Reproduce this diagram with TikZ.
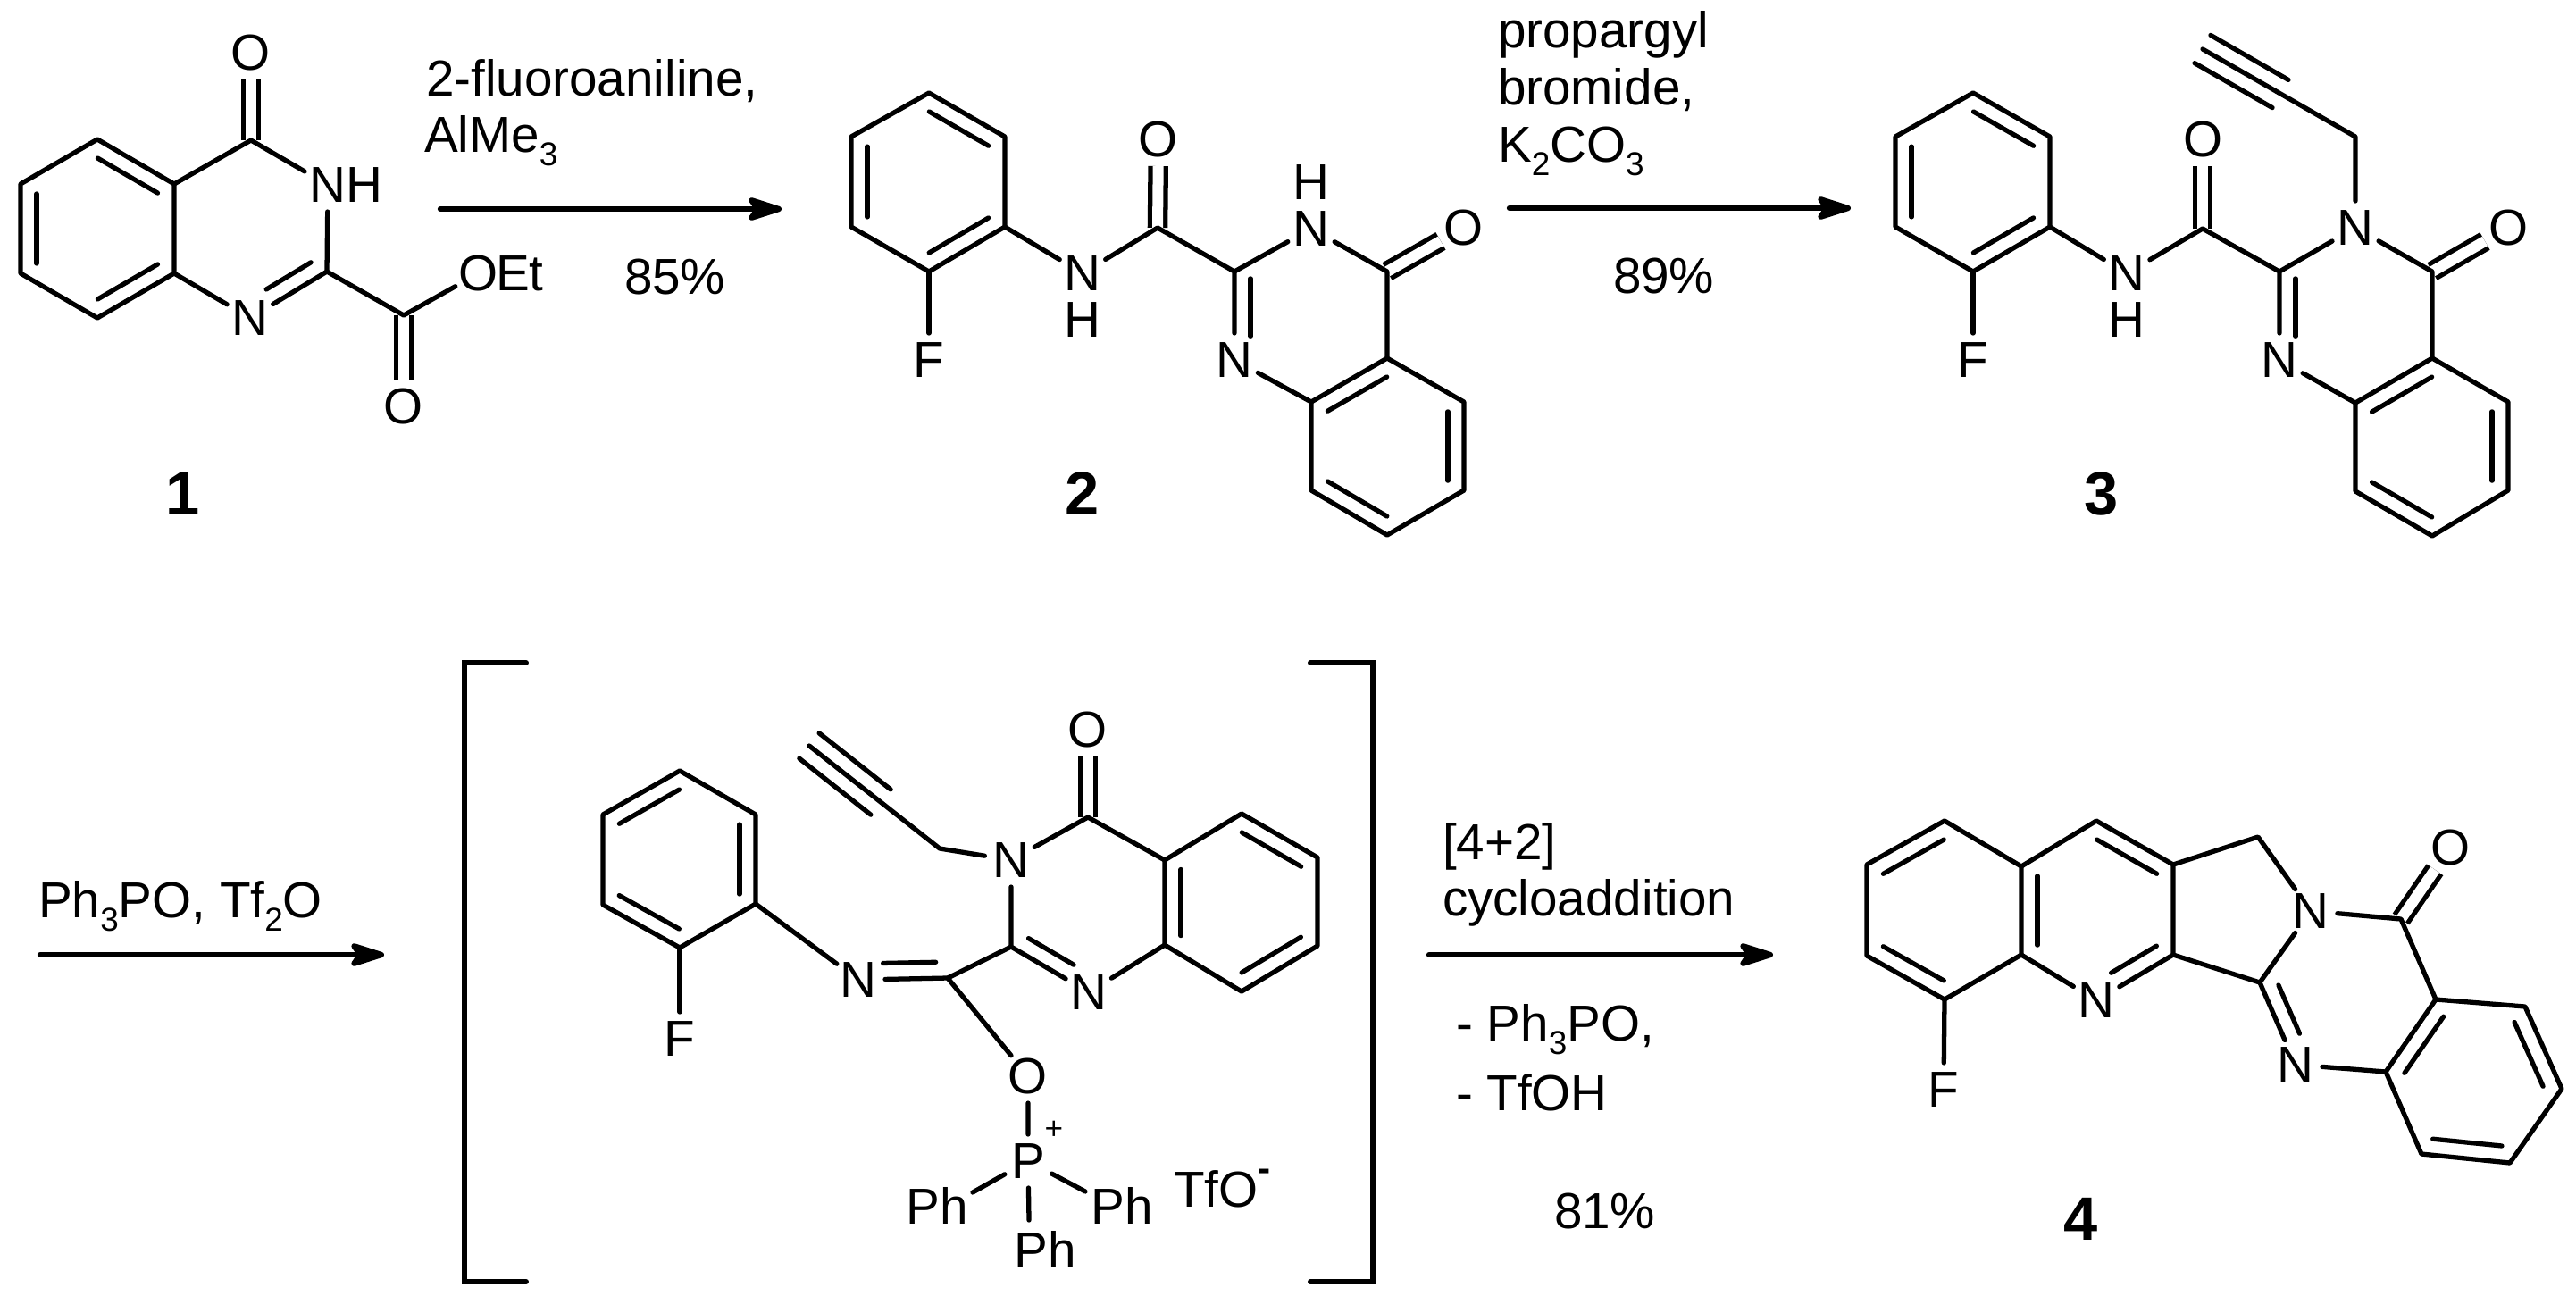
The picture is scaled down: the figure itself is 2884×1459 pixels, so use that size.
\documentclass[tikz,border=0pt]{standalone}
\usepackage{fontspec}
\setmainfont{Liberation Sans}
\usetikzlibrary{calc, arrows.meta}

\newcommand{\inbond}[4]{\draw[bond] ($(#1)!#3!(#2)!.18cm!-90:(#2)$) -- ($(#2)!#4!(#1)!.18cm!90:(#1)$);}
\newcommand{\chemsub}[1]{\raisebox{-4.5pt}{\fontsize{10.5}{12}\selectfont #1}}

\begin{document}
\begin{tikzpicture}[x=.01cm, y=-.01cm,
	bond/.style={line width=1.5pt, line cap=round, line join=round},
	dbond/.style={line width=1.5pt, double, double distance=.12cm},
	atom/.style={circle, inner sep=0pt, outer sep=0pt, minimum size=.6cm, font=\fontsize{16.1}{19}\selectfont},
	lab/.style={inner sep=0pt, outer sep=0pt, font=\fontsize{16.1}{19}\selectfont},
	rgt/.style={lab, anchor=base west},
	num/.style={inner sep=0pt, font=\fontsize{19.5}{23}\selectfont\bfseries},
	rxn/.style={line width=1.8pt, line cap=round, -{Stealth[length=.48cm, width=.3cm, inset=.1cm, round]}},
	brk/.style={line width=1.7pt, line cap=round, line join=miter}]
	\useasboundingbox (0,0) rectangle (2884,1459);

	\path (109,156) coordinate (ac5) (23,206) coordinate (ac6) (23,306) coordinate (ac7) (109,356) coordinate (ac8)
		(195,306) coordinate (ac8a) (195,206) coordinate (ac4a) (281,157) coordinate (ac4) (366,304) coordinate (ac2)
		(452,353) coordinate (aco);
	\node[atom] (ao4) at (281,59) {O};
	\node[atom] (an3) at (367,207) {N};
	\node[lab] (ah3) at (408,207) {H};
	\node[atom] (an1) at (280,356) {N};
	\node[atom] (ao2) at (452,455) {O};
	\node[atom] (aoe) at (536,306) {O};
	\node[lab, anchor=west] (aet) at (555,306) {Et};
	\node[num] (lab1) at (205,553) {1};
	\draw[dbond] (ac4) -- (ao4);
	\draw[dbond] (aco) -- (ao2);
	\draw[bond] (ac5) -- (ac6) -- (ac7) -- (ac8) -- (ac8a) -- (ac4a) -- cycle;
	\draw[bond] (ac4a) -- (ac4) -- (an3) -- (ac2) -- (an1) -- (ac8a);
	\draw[bond] (ac2) -- (aco) -- (aoe);
	\inbond{ac5}{ac4a}{.11}{.11}
	\inbond{ac8a}{ac8}{.11}{.11}
	\inbond{ac7}{ac6}{.11}{.11}
	\inbond{ac2}{an1}{.1}{.32}

	\coordinate (arr1s) at (493,234);
	\coordinate (arr1e) at (875,234);
	\draw[rxn] (arr1s) -- (arr1e);
	\node[rgt] (txt1a) at (477,107) {2-fluoroaniline,};
	\node[rgt] (txt1b) at (475,170) {AlMe\chemsub{3}};
	\node[rgt] (txt1c) at (699,329) {85\%};

	\path (1040,104) coordinate (bc1) (953,153) coordinate (bc2) (953,254) coordinate (bc3) (1040,304) coordinate (bc4)
		(1125,254) coordinate (bc5) (1125,153) coordinate (bc6) (1296,255) coordinate (bco) (1382,304) coordinate (bq2)
		(1553,304) coordinate (bq4) (1553,401) coordinate (bq4a) (1468,450) coordinate (bq8a) (1639,450) coordinate (bq5)
		(1639,549) coordinate (bq6) (1553,599) coordinate (bq7) (1468,549) coordinate (bq8);
	\node[atom] (bf) at (1040,403) {F};
	\node[atom] (bnh) at (1212,306) {N};
	\node[lab] (bhh) at (1212,358) {H};
	\node[atom] (bo) at (1297,156) {O};
	\node[atom] (bn3) at (1468,256) {N};
	\node[lab] (bh3) at (1468,204) {H};
	\node[atom] (bo4) at (1639,255) {O};
	\node[atom] (bn1) at (1382,403) {N};
	\node[num] (lab2) at (1212,553) {2};
	\draw[dbond] (bco) -- (bo);
	\draw[dbond] (bq4) -- (bo4);
	\draw[bond] (bc1) -- (bc2) -- (bc3) -- (bc4) -- (bc5) -- (bc6) -- cycle;
	\draw[bond] (bc4) -- (bf);
	\draw[bond] (bc5) -- (bnh) -- (bco) -- (bq2) -- (bn3) -- (bq4) -- (bq4a) -- (bq8a) -- (bn1) -- (bq2);
	\draw[bond] (bq4a) -- (bq5) -- (bq6) -- (bq7) -- (bq8) -- (bq8a);
	\inbond{bc1}{bc6}{.11}{.11}
	\inbond{bc5}{bc4}{.11}{.11}
	\inbond{bc3}{bc2}{.11}{.11}
	\inbond{bn1}{bq2}{.27}{.08}
	\inbond{bq8a}{bq4a}{.11}{.11}
	\inbond{bq5}{bq6}{.11}{.11}
	\inbond{bq7}{bq8}{.11}{.11}

	\coordinate (arr2s) at (1690,233);
	\coordinate (arr2e) at (2072,233);
	\draw[rxn] (arr2s) -- (arr2e);
	\node[rgt] (txt2a) at (1677,53) {propargyl};
	\node[rgt] (txt2b) at (1677,117) {bromide,};
	\node[rgt] (txt2c) at (1677,181) {K\chemsub{2}CO\chemsub{3}};
	\node[rgt] (txt2d) at (1806,328) {89\%};

	\path (2209,104) coordinate (cc1) (2122,153) coordinate (cc2) (2122,254) coordinate (cc3) (2209,304) coordinate (cc4)
		(2295,254) coordinate (cc5) (2295,153) coordinate (cc6) (2466,256) coordinate (cco) (2552,304) coordinate (cq2)
		(2723,304) coordinate (cq4) (2723,401) coordinate (cq4a) (2637,451) coordinate (cq8a) (2808,450) coordinate (cq5)
		(2808,549) coordinate (cq6) (2723,600) coordinate (cq7) (2637,550) coordinate (cq8)
		(2637,153) coordinate (cch) (2553,105) coordinate (cyn) (2466,55) coordinate (cyt);
	\node[atom] (cf) at (2209,403) {F};
	\node[atom] (cnh) at (2381,306) {N};
	\node[lab] (chh) at (2381,358) {H};
	\node[atom] (co) at (2466,156) {O};
	\node[atom] (cn3) at (2637,255) {N};
	\node[atom] (co4) at (2808,255) {O};
	\node[atom] (cn1) at (2552,403) {N};
	\node[num] (lab3) at (2353,553) {3};
	\draw[dbond] (cco) -- (co);
	\draw[dbond] (cq4) -- (co4);
	\draw[bond] (cc1) -- (cc2) -- (cc3) -- (cc4) -- (cc5) -- (cc6) -- cycle;
	\draw[bond] (cc4) -- (cf);
	\draw[bond] (cc5) -- (cnh) -- (cco) -- (cq2) -- (cn3) -- (cq4) -- (cq4a) -- (cq8a) -- (cn1) -- (cq2);
	\draw[bond] (cq4a) -- (cq5) -- (cq6) -- (cq7) -- (cq8) -- (cq8a);
	\draw[bond] (cn3) -- (cch) -- (cyt);
	\inbond{cc1}{cc6}{.11}{.11}
	\inbond{cc5}{cc4}{.11}{.11}
	\inbond{cc3}{cc2}{.11}{.11}
	\inbond{cn1}{cq2}{.27}{.08}
	\inbond{cq8a}{cq4a}{.11}{.11}
	\inbond{cq5}{cq6}{.11}{.11}
	\inbond{cq7}{cq8}{.11}{.11}
	\inbond{cyt}{cyn}{0}{0}
	\inbond{cyn}{cyt}{0}{0}

	\coordinate (arr3s) at (45,1069);
	\coordinate (arr3e) at (430,1069);
	\draw[rxn] (arr3s) -- (arr3e);
	\node[rgt] (txt3) at (43,1027) {Ph\chemsub{3}PO, Tf\chemsub{2}O};

	\path (589,742) coordinate (bl1) (520,742) coordinate (bl2) (520,1435) coordinate (bl3) (589,1435) coordinate (bl4)
		(1467,742) coordinate (br1) (1537,742) coordinate (br2) (1537,1435) coordinate (br3) (1467,1435) coordinate (br4);
	\draw[brk] (bl1) -- (bl2) -- (bl3) -- (bl4);
	\draw[brk] (br1) -- (br2) -- (br3) -- (br4);

	\path (761,863) coordinate (dc1) (675,912) coordinate (dc2) (675,1013) coordinate (dc3) (761,1061) coordinate (dc4)
		(846,1012) coordinate (dc5) (846,912) coordinate (dc6) (1061,1095) coordinate (dci) (1132,1060) coordinate (dq2)
		(1218,915) coordinate (dq4) (1304,963) coordinate (dq4a) (1304,1058) coordinate (dq8a) (1390,911) coordinate (dq5)
		(1475,960) coordinate (dq6) (1475,1059) coordinate (dq7) (1390,1110) coordinate (dq8)
		(1052,950) coordinate (dch) (986,898) coordinate (dyn) (906,835) coordinate (dyt)
		(1089,1335) coordinate (dphl) (1215,1334) coordinate (dphr) (1152,1366) coordinate (dphb);
	\node[atom] (df) at (761,1163) {F};
	\node[atom] (dni) at (961,1097) {N};
	\node[atom] (dn3) at (1132,963) {N};
	\node[atom] (dn1) at (1219,1111) {N};
	\node[atom] (do4) at (1218,817) {O};
	\node[atom] (dop) at (1151,1205) {O};
	\node[atom] (dp) at (1151,1300) {P};
	\node[inner sep=0pt, font=\fontsize{10}{12}\selectfont] (dplus) at (1180,1265) {+};
	\node[lab] (ph1) at (1049,1350) {Ph};
	\node[lab] (ph2) at (1256,1350) {Ph};
	\node[lab] (ph3) at (1170,1399) {Ph};
	\node[rgt] (tfo) at (1314,1351) {TfO\raisebox{8pt}{\fontsize{12}{14}\selectfont\bfseries -}};
	\draw[dbond] (dq4) -- (do4);
	\draw[bond] (dc1) -- (dc2) -- (dc3) -- (dc4) -- (dc5) -- (dc6) -- cycle;
	\draw[bond] (dc4) -- (df);
	\draw[bond] (dc5) -- (dni) -- (dci) -- (dq2) -- (dn3) -- (dq4) -- (dq4a) -- (dq8a) -- (dn1) -- (dq2);
	\draw[bond] (dq4a) -- (dq5) -- (dq6) -- (dq7) -- (dq8) -- (dq8a);
	\draw[bond] (dn3) -- (dch) -- (dyt);
	\draw[bond] (dci) -- (dop) -- (dp);
	\draw[bond] (dp) -- (dphl);
	\draw[bond] (dp) -- (dphr);
	\draw[bond] (dp) -- (dphb);
	\inbond{dc2}{dc1}{.11}{.11}
	\inbond{dc6}{dc5}{.11}{.11}
	\inbond{dc4}{dc3}{.11}{.11}
	\inbond{dci}{dni}{.13}{.28}
	\inbond{dn1}{dq2}{.3}{.12}
	\inbond{dq8a}{dq4a}{.11}{.11}
	\inbond{dq5}{dq6}{.11}{.11}
	\inbond{dq7}{dq8}{.11}{.11}
	\inbond{dyt}{dyn}{0}{0}
	\inbond{dyn}{dyt}{0}{0}

	\coordinate (arr4s) at (1600,1069);
	\coordinate (arr4e) at (1985,1069);
	\draw[rxn] (arr4s) -- (arr4e);
	\node[rgt] (txt4a) at (1615,962) {[4+2]};
	\node[rgt] (txt4b) at (1615,1025) {cycloaddition};
	\node[rgt] (txt4c) at (1630,1165) {- Ph\chemsub{3}PO,};
	\node[rgt] (txt4d) at (1630,1243) {- TfOH};
	\node[rgt] (txt4e) at (1740,1375) {81\%};

	\path (2177,919) coordinate (ec1) (2090,968) coordinate (ec2) (2090,1070) coordinate (ec3) (2177,1119) coordinate (ec4)
		(2263,1069) coordinate (ec5) (2263,970) coordinate (ec6) (2347,919) coordinate (ec7) (2433,968) coordinate (ec8)
		(2433,1069) coordinate (ec9) (2528,937) coordinate (ech) (2530,1100) coordinate (ecn) (2688,1029) coordinate (eco)
		(2727,1119) coordinate (ed1) (2827,1127) coordinate (ed2) (2868,1219) coordinate (ed3) (2810,1302) coordinate (ed4)
		(2711,1292) coordinate (ed5) (2671,1200) coordinate (ed6);
	\node[atom] (ef) at (2176,1220) {F};
	\node[atom] (en) at (2347,1120) {N};
	\node[atom] (en2) at (2587,1020) {N};
	\node[atom] (en3) at (2570,1192) {N};
	\node[atom] (eo) at (2743,949) {O};
	\node[num] (lab4) at (2330,1365) {4};
	\draw[dbond] (eco) -- (eo);
	\draw[bond] (ec1) -- (ec2) -- (ec3) -- (ec4) -- (ec5) -- (ec6) -- cycle;
	\draw[bond] (ec4) -- (ef);
	\draw[bond] (ec6) -- (ec7) -- (ec8) -- (ec9) -- (en) -- (ec5);
	\draw[bond] (ec8) -- (ech) -- (en2) -- (ecn) -- (ec9);
	\draw[bond] (en2) -- (eco) -- (ed1);
	\draw[bond] (ecn) -- (en3) -- (ed6);
	\draw[bond] (ed1) -- (ed2) -- (ed3) -- (ed4) -- (ed5) -- (ed6) -- cycle;
	\inbond{ec2}{ec1}{.11}{.11}
	\inbond{ec4}{ec3}{.11}{.11}
	\inbond{ec5}{ec6}{.11}{.11}
	\inbond{ec7}{ec8}{.11}{.11}
	\inbond{ec9}{en}{.11}{.3}
	\inbond{en3}{ecn}{.3}{.11}
	\inbond{ed6}{ed1}{.11}{.11}
	\inbond{ed2}{ed3}{.11}{.11}
	\inbond{ed4}{ed5}{.11}{.11}
\end{tikzpicture}
\end{document}
